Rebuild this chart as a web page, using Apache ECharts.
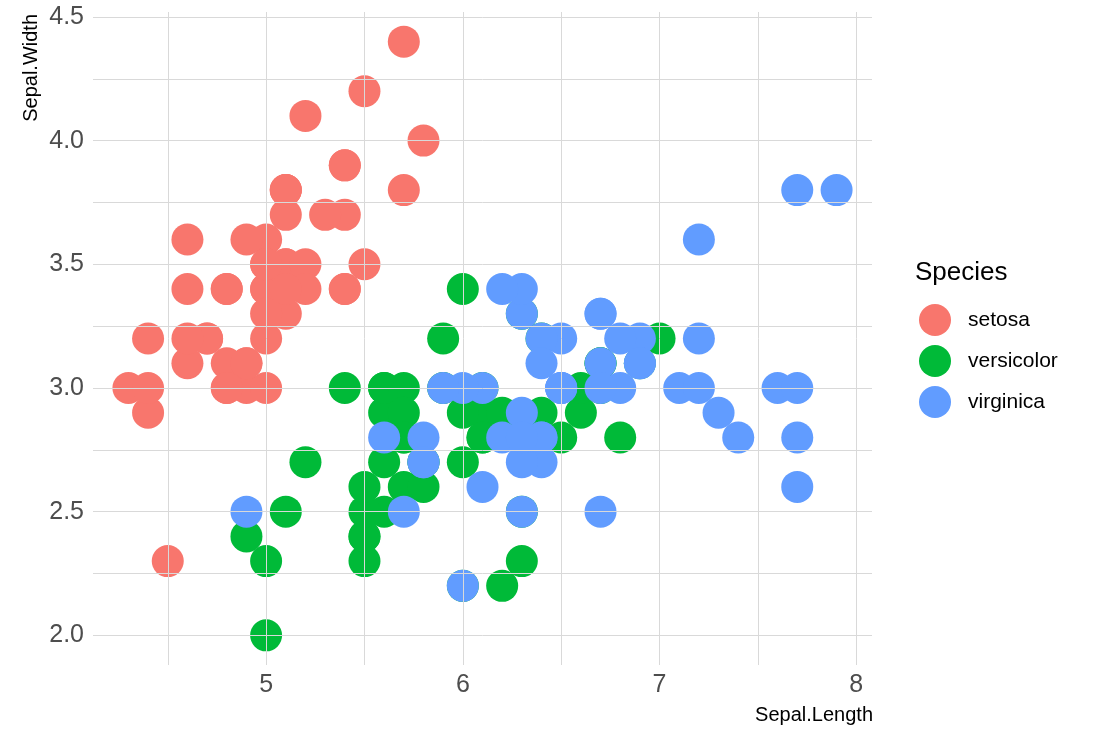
<!DOCTYPE html>
<html>
<head>
<meta charset="utf-8">
<script src="https://cdn.jsdelivr.net/npm/echarts@6/dist/echarts.min.js"></script>
<style>
	html, body { margin: 0; padding: 0; background: #fff; }
	#chart { width: 1094px; height: 734px; }
</style>
</head>
<body>
<div id="chart"></div>
<script>
// iris: Sepal.Length / Sepal.Width per species
var setosaLength = [5.1, 4.9, 4.7, 4.6, 5.0, 5.4, 4.6, 5.0, 4.4, 4.9, 5.4, 4.8, 4.8, 4.3, 5.8, 5.7, 5.4, 5.1, 5.7, 5.1, 5.4, 5.1, 4.6, 5.1, 4.8, 5.0, 5.0, 5.2, 5.2, 4.7, 4.8, 5.4, 5.2, 5.5, 4.9, 5.0, 5.5, 4.9, 4.4, 5.1, 5.0, 4.5, 4.4, 5.0, 5.1, 4.8, 5.1, 4.6, 5.3, 5.0];
var setosaWidth = [3.5, 3.0, 3.2, 3.1, 3.6, 3.9, 3.4, 3.4, 2.9, 3.1, 3.7, 3.4, 3.0, 3.0, 4.0, 4.4, 3.9, 3.5, 3.8, 3.8, 3.4, 3.7, 3.6, 3.3, 3.4, 3.0, 3.4, 3.5, 3.4, 3.2, 3.1, 3.4, 4.1, 4.2, 3.1, 3.2, 3.5, 3.6, 3.0, 3.4, 3.5, 2.3, 3.2, 3.5, 3.8, 3.0, 3.8, 3.2, 3.7, 3.3];
var versicolorLength = [7.0, 6.4, 6.9, 5.5, 6.5, 5.7, 6.3, 4.9, 6.6, 5.2, 5.0, 5.9, 6.0, 6.1, 5.6, 6.7, 5.6, 5.8, 6.2, 5.6, 5.9, 6.1, 6.3, 6.1, 6.4, 6.6, 6.8, 6.7, 6.0, 5.7, 5.5, 5.5, 5.8, 6.0, 5.4, 6.0, 6.7, 6.3, 5.6, 5.5, 5.5, 6.1, 5.8, 5.0, 5.6, 5.7, 5.7, 6.2, 5.1, 5.7];
var versicolorWidth = [3.2, 3.2, 3.1, 2.3, 2.8, 2.8, 3.3, 2.4, 2.9, 2.7, 2.0, 3.0, 2.2, 2.9, 2.9, 3.1, 3.0, 2.7, 2.2, 2.5, 3.2, 2.8, 2.5, 2.8, 2.9, 3.0, 2.8, 3.0, 2.9, 2.6, 2.4, 2.4, 2.7, 2.7, 3.0, 3.4, 3.1, 2.3, 3.0, 2.5, 2.6, 3.0, 2.6, 2.3, 2.7, 3.0, 2.9, 2.9, 2.5, 2.8];
var virginicaLength = [6.3, 5.8, 7.1, 6.3, 6.5, 7.6, 4.9, 7.3, 6.7, 7.2, 6.5, 6.4, 6.8, 5.7, 5.8, 6.4, 6.5, 7.7, 7.7, 6.0, 6.9, 5.6, 7.7, 6.3, 6.7, 7.2, 6.2, 6.1, 6.4, 7.2, 7.4, 7.9, 6.4, 6.3, 6.1, 7.7, 6.3, 6.4, 6.0, 6.9, 6.7, 6.9, 5.8, 6.8, 6.7, 6.7, 6.3, 6.5, 6.2, 5.9];
var virginicaWidth = [3.3, 2.7, 3.0, 2.9, 3.0, 3.0, 2.5, 2.9, 2.5, 3.6, 3.2, 2.7, 3.0, 2.5, 2.8, 3.2, 3.0, 3.8, 2.6, 2.2, 3.2, 2.8, 2.8, 2.7, 3.3, 3.2, 2.8, 3.0, 2.8, 3.0, 2.8, 3.8, 2.8, 2.8, 2.6, 3.0, 3.4, 3.1, 3.0, 3.1, 3.1, 3.1, 2.7, 3.2, 3.3, 3.0, 2.5, 3.0, 3.4, 3.0];

var speciesNames = ['setosa', 'versicolor', 'virginica'];
var speciesColors = ['#F8766D', '#00BA38', '#619CFF'];

var xTicks = [5, 6, 7, 8];
var yTicks = [2.0, 2.5, 3.0, 3.5, 4.0, 4.5];
var xGrid = [4.5, 5, 5.5, 6, 6.5, 7, 7.5, 8];
var yGrid = [2.0, 2.25, 2.5, 2.75, 3.0, 3.25, 3.5, 3.75, 4.0, 4.25, 4.5];

var FONT = 'Liberation Sans, Arial, sans-serif';

function pairs(xs, ys) {
	var out = [];
	for (var i = 0; i < xs.length; i++) {
		out.push([xs[i], ys[i]]);
	}
	return out;
}

function chart() {
	var myChart = echarts.init(document.getElementById('chart'));
	//网格线 (major + minor)
	var gridLines = [];
	for (var i = 0; i < xGrid.length; i++) gridLines.push({ xAxis: xGrid[i] });
	for (var j = 0; j < yGrid.length; j++) gridLines.push({ yAxis: yGrid[j] });

	var allData = [
		pairs(setosaLength, setosaWidth),
		pairs(versicolorLength, versicolorWidth),
		pairs(virginicaLength, virginicaWidth)
	];

	var series = [{
		name: 'grid',
		type: 'scatter',
		data: [],
		z: 1,
		silent: true,
		markLine: {
			silent: true,
			symbol: ['none', 'none'],
			label: { show: false },
			animation: false,
			lineStyle: { color: '#d9d9d9', width: 1, type: 'solid' },
			data: gridLines
		}
	}];
	for (var k = 0; k < speciesNames.length; k++) {
		series.push({
			name: speciesNames[k],
			type: 'scatter',
			z: 2 + k,
			symbol: 'circle',
			symbolSize: 32,
			itemStyle: { color: speciesColors[k], opacity: 1 },
			data: allData[k]
		});
	}

	var option = {
		animation: false,
		backgroundColor: '#fff',
		textStyle: { fontFamily: FONT },
		grid: {
			left: 93,
			right: 222,
			top: 12,
			bottom: 69,
			containLabel: false
		},
		xAxis: {
			type: 'value',
			min: 4.12,
			max: 8.08,
			axisLine: { show: false },
			axisTick: { show: false },
			splitLine: { show: false },
			axisLabel: {
				customValues: xTicks,
				color: '#4d4d4d',
				fontSize: 25,
				margin: 8,
				formatter: function(v) { return String(Math.round(v)); }
			}
		},
		yAxis: {
			type: 'value',
			min: 1.88,
			max: 4.52,
			axisLine: { show: false },
			axisTick: { show: false },
			splitLine: { show: false },
			axisLabel: {
				customValues: yTicks,
				color: '#4d4d4d',
				fontSize: 25,
				margin: 9,
				formatter: function(v) { return v.toFixed(1); }
			}
		},
		legend: {
			data: speciesNames,
			orient: 'vertical',
			left: 914,
			top: 299,
			itemWidth: 32,
			itemHeight: 32,
			itemGap: 9,
			icon: 'circle',
			textStyle: { color: '#000', fontSize: 21, padding: [0, 0, 0, 12] }
		},
		graphic: [{
			type: 'text',
			left: 915,
			top: 260,
			style: { text: 'Species', fill: '#000', fontSize: 26, fontFamily: FONT }
		}, {
			type: 'text',
			right: 221,
			top: 705,
			style: { text: 'Sepal.Length', fill: '#000', fontSize: 20, fontFamily: FONT }
		}, {
			type: 'text',
			x: 21,
			y: 14,
			rotation: Math.PI / 2,
			style: { text: 'Sepal.Width', fill: '#000', fontSize: 20, align: 'right', verticalAlign: 'top', fontFamily: FONT }
		}],
		series: series
	};
	myChart.setOption(option);
}

chart();
</script>
</body>
</html>
